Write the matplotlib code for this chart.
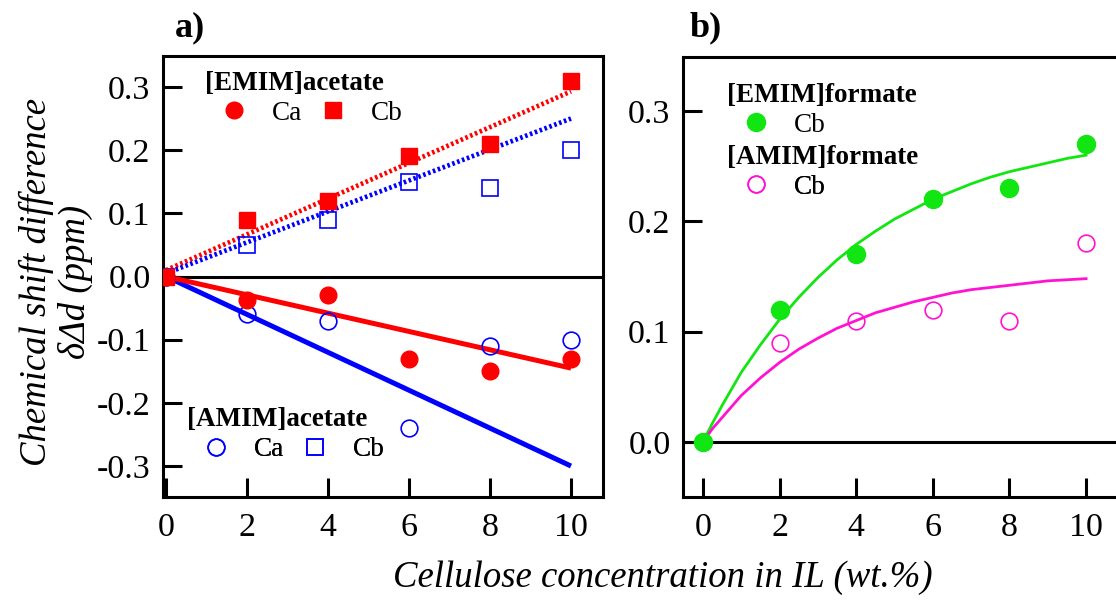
import matplotlib
matplotlib.use("Agg")
import matplotlib.pyplot as plt
from matplotlib.lines import Line2D

plt.rcParams['font.family'] = ['Liberation Serif', 'DejaVu Serif']

# ---------------- data ----------------
conc = [0, 2, 4, 6, 8, 10]

# panel a: acetates
emim_ac_Ca = [0.0, -0.037, -0.03, -0.13, -0.15, -0.13]
emim_ac_Cb = [0.0, 0.09, 0.12, 0.19, 0.21, 0.31]
amim_ac_Ca = [0.0, -0.06, -0.07, -0.24, -0.11, -0.10]
amim_ac_Cb = [0.0, 0.05, 0.09, 0.15, 0.14, 0.20]

fit_x = [0, 10]
fit_emim_Ca = [0.0, -0.145]
fit_amim_Ca = [0.0, -0.30]
fit_emim_Cb = [0.01, 0.293]
fit_amim_Cb = [0.005, 0.25]

# panel b: formates
emim_fo_Cb = [0.0, 0.12, 0.17, 0.22, 0.23, 0.27]
amim_fo_Cb = [0.0, 0.09, 0.11, 0.12, 0.11, 0.18]

curve_x = [0, 0.25, 0.5, 0.75, 1, 1.5, 2, 2.5, 3, 3.5, 4, 4.5, 5, 5.5,
           6, 6.5, 7, 7.5, 8, 8.5, 9, 9.5, 10]
curve_emim = [0.0, 0.017, 0.033, 0.048, 0.063, 0.088, 0.111, 0.131, 0.149,
              0.165, 0.179, 0.191, 0.202, 0.211, 0.220, 0.227, 0.234, 0.240,
              0.245, 0.249, 0.253, 0.257, 0.260]
curve_amim = [0.0, 0.012, 0.022, 0.032, 0.042, 0.058, 0.072, 0.084, 0.094,
              0.103, 0.110, 0.117, 0.122, 0.127, 0.131, 0.135, 0.138, 0.140,
              0.142, 0.144, 0.146, 0.147, 0.148]

xticks = [0, 2, 4, 6, 8, 10]
yticks_a = [-0.3, -0.2, -0.1, 0.0, 0.1, 0.2, 0.3]
yticks_b = [0.0, 0.1, 0.2, 0.3]

RED = '#ff0000'
BLUE = '#0000ff'
GREEN = '#12e612'
PINK = '#ff12d2'

W, H = 1116, 603
fig = plt.figure(figsize=(W / 100, H / 100), dpi=100)

def frac_rect(l, r, t, b):
    return [l / W, 1 - b / H, (r - l) / W, (b - t) / H]

ax1 = fig.add_axes(frac_rect(163, 603, 56, 497))
ax2 = fig.add_axes(frac_rect(683, 1116, 57, 497))

TICKFS = 24.5
LEGFS = 19.5
SPW = 2.2

for ax in (ax1, ax2):
    for s in ax.spines.values():
        s.set_linewidth(SPW)
    ax.tick_params(direction='in', length=14, width=SPW, labelsize=TICKFS,
                   top=False, right=False)
    ax.tick_params(axis='y', pad=9)
    ax.tick_params(axis='x', pad=11)
    ax.axhline(0, color='black', lw=SPW, zorder=1)
    ax.set_xticks(xticks)
    ax.set_xticklabels([str(v) for v in xticks])

ax2.spines['right'].set_visible(False)

# ---------- panel a ----------
ax1.plot(fit_x, fit_amim_Ca, color=BLUE, lw=3.6, solid_capstyle='butt', zorder=2)
ax1.plot(fit_x, fit_emim_Ca, color=RED, lw=3.6, solid_capstyle='butt', zorder=2)
ax1.plot(fit_x, fit_emim_Cb, color=RED, lw=3.4, ls=(0, (0.55, 0.55)), zorder=2)
ax1.plot(fit_x, fit_amim_Cb, color=BLUE, lw=3.4, ls=(0, (0.55, 0.55)), zorder=2)

ms = 12
ax1.plot(conc, amim_ac_Cb, 's', ms=ms, mfc='none', mec=BLUE, mew=1.2, zorder=3)
ax1.plot(conc, amim_ac_Ca, 'o', ms=ms, mfc='none', mec=BLUE, mew=1.2, zorder=3)
ax1.plot(conc, emim_ac_Cb, 's', ms=ms, color=RED, mec=RED, zorder=4)
ax1.plot(conc, emim_ac_Ca, 'o', ms=ms, color=RED, mec=RED, zorder=4)

ax1.set_xlim(-0.074, 10.79)
ax1.set_ylim(-0.349, 0.349)
ax1.set_yticks(yticks_a)
ax1.set_yticklabels(['%.1f' % v for v in yticks_a])

def ax_frac(px, py, l, r, t, b):
    return ((px - l) / (r - l), (b - py) / (b - t))

def entry_legend(ax, handles, labels, anchor, ncol):
    leg = ax.legend(handles, labels, loc='center left', bbox_to_anchor=anchor,
                    ncol=ncol, frameon=False, fontsize=LEGFS, borderpad=0,
                    borderaxespad=0, handlelength=1.0, handletextpad=0.9,
                    columnspacing=0.65, labelspacing=0.3)
    ax.add_artist(leg)
    return leg

A = (163, 603, 56, 497)
ax1.text(*ax_frac(205, 83, *A), '[EMIM]acetate', transform=ax1.transAxes,
         fontsize=LEGFS, fontweight='bold', ha='left', va='center')
h1 = [Line2D([], [], ls='none', marker='o', ms=ms, color=RED),
      Line2D([], [], ls='none', marker='s', ms=ms, color=RED)]
entry_legend(ax1, h1, ['Ca', 'Cb'], ax_frac(220.5, 113, *A), 2)

ax1.text(*ax_frac(187, 420, *A), '[AMIM]acetate', transform=ax1.transAxes,
         fontsize=LEGFS, fontweight='bold', ha='left', va='center')
h2 = [Line2D([], [], ls='none', marker='o', ms=ms, mfc='none', mec=BLUE, mew=1.2),
      Line2D([], [], ls='none', marker='s', ms=ms, mfc='none', mec=BLUE, mew=1.2)]
entry_legend(ax1, h2, ['Ca', 'Cb'], ax_frac(202.5, 450, *A), 2)

# ---------- panel b ----------
ax2.plot(curve_x, curve_emim, color=GREEN, lw=2.0, zorder=2)
ax2.plot(curve_x, curve_amim, color=PINK, lw=2.0, zorder=2)
ax2.plot(conc, amim_fo_Cb, 'o', ms=12, mfc='none', mec=PINK, mew=1.2, zorder=3)
ax2.plot(conc, emim_fo_Cb, 'o', ms=13, color=GREEN, mec=GREEN, zorder=4)

ax2.set_xlim(-0.52, 10.78)
ax2.set_ylim(-0.05, 0.349)
ax2.set_yticks(yticks_b)
ax2.set_yticklabels(['%.1f' % v for v in yticks_b])

B = (683, 1116, 57, 497)
ax2.text(*ax_frac(727, 95, *B), '[EMIM]formate', transform=ax2.transAxes,
         fontsize=LEGFS, fontweight='bold', ha='left', va='center')
h3 = [Line2D([], [], ls='none', marker='o', ms=13, color=GREEN)]
entry_legend(ax2, h3, ['Cb'], ax_frac(742.5, 125, *B), 1)
ax2.text(*ax_frac(727, 157, *B), '[AMIM]formate', transform=ax2.transAxes,
         fontsize=LEGFS, fontweight='bold', ha='left', va='center')
h4 = [Line2D([], [], ls='none', marker='o', ms=12, mfc='none', mec=PINK, mew=1.2)]
entry_legend(ax2, h4, ['Cb'], ax_frac(742.5, 187, *B), 1)

# ---------- labels ----------
fig.text(56 / W, 1 - 282 / H, 'Chemical shift difference\nδΔd (ppm)',
         rotation=90, ha='center', va='center', multialignment='center',
         fontsize=26.5, fontstyle='italic', linespacing=1.15)
fig.text(663 / W, 1 - 578 / H, 'Cellulose concentration in IL (wt.%)',
         ha='center', va='center', fontsize=26.5, fontstyle='italic')
fig.text(175 / W, 1 - 28 / H, 'a)', ha='left', va='center', fontsize=26,
         fontweight='bold')
fig.text(690 / W, 1 - 28 / H, 'b)', ha='left', va='center', fontsize=26,
         fontweight='bold')

fig.savefig('out.png', dpi=100)
